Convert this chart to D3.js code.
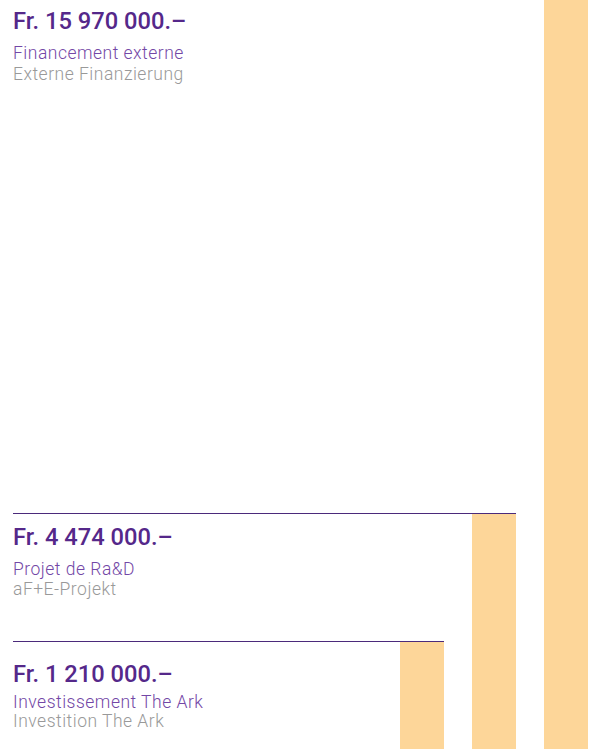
<!DOCTYPE html>
<html>
<head>
<meta charset="utf-8">
<script src="https://cdn.jsdelivr.net/npm/d3@7"></script>
<style>
  html, body { margin: 0; padding: 0; background: #fff; }
  svg { display: block; }
  .amount { font-family: Roboto, "Noto Sans", sans-serif; font-weight: 500; }
  .sub { font-family: Roboto, "Noto Sans", sans-serif; font-weight: 300; letter-spacing: 0.5px; }
</style>
</head>
<body>
<svg id="chart"></svg>
<script>
(function () {
  'use strict';

  // data
  const amounts = [15970000, 4474000, 1210000];
  const amountLabels = ['Fr. 15 970 000.–', 'Fr. 4 474 000.–', 'Fr. 1 210 000.–'];
  const labelsFr = ['Financement externe', 'Projet de Ra&D', 'Investissement The Ark'];
  const labelsDe = ['Externe Finanzierung', 'aF+E-Projekt', 'Investition The Ark'];

  const COLORS = {
    bar:    '#fdd699',
    rule:   '#4b2a7b',
    amount: '#55288a',
    fr:     '#7347a6',
    de:     '#999999',
  };

  const width = 590, height = 749;
  const left = 13;

  // vertical offsets of the text block under each rule (layout only)
  const amountDy = [29, 32, 41];
  const frDy = [30, 30, 26];
  const deDy = [21, 20, 19];

  const svg = d3.select('#chart')
    .attr('width', width)
    .attr('height', height);

  // bars: largest on the right, stepping leftwards
  const x = d3.scaleBand()
    .domain(d3.range(amounts.length).reverse())
    .range([400, 588])
    .paddingInner(28 / 72)
    .paddingOuter(0);

  // the reference compresses the amounts: piecewise scale through the three tops
  const y = d3.scaleLinear()
    .domain([0, 1210000, 4474000, 15970000])
    .range([height, 641, 513, 0]);

  svg.append('g')
    .selectAll('rect')
    .data(amounts)
    .enter().append('rect')
    .attr('x', (d, i) => x(i))
    .attr('y', d => y(d))
    .attr('width', x.bandwidth())
    .attr('height', d => height - y(d))
    .attr('fill', COLORS.bar);

  // rules from the left edge to the right edge of each bar
  svg.append('g')
    .selectAll('line')
    .data(amounts.slice(1))
    .enter().append('line')
    .attr('x1', left)
    .attr('x2', (d, i) => x(i + 1) + x.bandwidth())
    .attr('y1', d => Math.round(y(d)) + 0.5)
    .attr('y2', d => Math.round(y(d)) + 0.5)
    .attr('stroke', COLORS.rule)
    .attr('stroke-width', 1.2);

  const block = svg.append('g')
    .selectAll('g')
    .data(amounts)
    .enter().append('g')
    .attr('transform', d => `translate(${left},${y(d)})`);

  block.append('text')
    .attr('class', 'amount')
    .attr('y', (d, i) => amountDy[i])
    .attr('font-size', 23.7)
    .attr('fill', COLORS.amount)
    .text((d, i) => amountLabels[i]);

  block.append('text')
    .attr('class', 'sub')
    .attr('y', (d, i) => amountDy[i] + frDy[i])
    .attr('font-size', 17.5)
    .attr('fill', COLORS.fr)
    .text((d, i) => labelsFr[i]);

  block.append('text')
    .attr('class', 'sub')
    .attr('y', (d, i) => amountDy[i] + frDy[i] + deDy[i])
    .attr('font-size', 17.5)
    .attr('fill', COLORS.de)
    .text((d, i) => labelsDe[i]);
})();
</script>
</body>
</html>
